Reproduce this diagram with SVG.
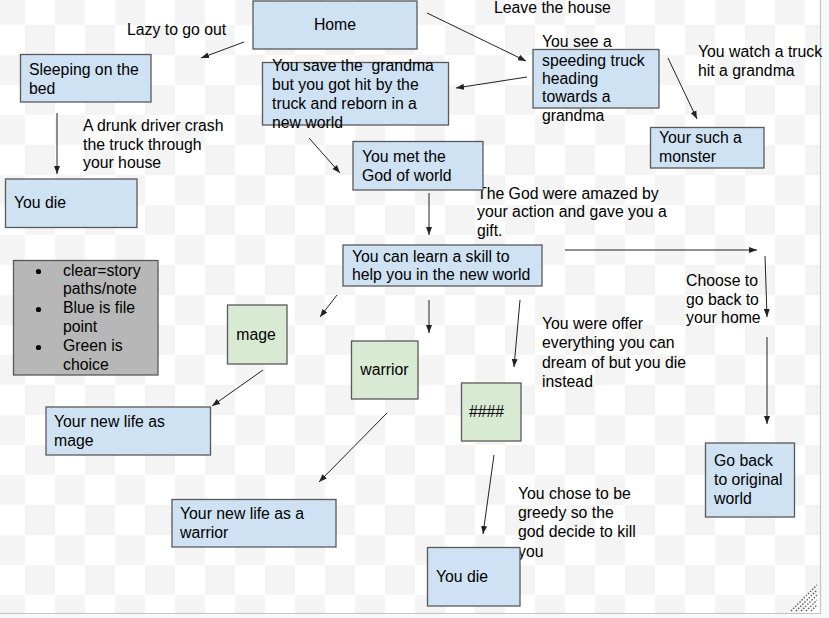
<svg xmlns="http://www.w3.org/2000/svg" width="829" height="618" viewBox="0 0 829 618">
<defs>
<pattern id="chk" x="25" y="25" width="60" height="60" patternUnits="userSpaceOnUse">
<rect width="60" height="60" fill="#ffffff"/>
<rect width="30" height="30" fill="#f4f4f4"/>
<rect x="30" y="30" width="30" height="30" fill="#f4f4f4"/>
</pattern>
<marker id="ah" markerUnits="userSpaceOnUse" markerWidth="9" markerHeight="7" refX="8" refY="3.5" orient="auto">
<path d="M0,0.5 L8,3.5 L0,6.5 z" fill="#222"/>
</marker>
<style>
.n{fill:#cfe2f3;stroke:#595959;stroke-width:1.3}
.g{fill:#d9ead3;stroke:#595959;stroke-width:1.3}
.k{fill:#b7b7b7;stroke:#595959;stroke-width:1.3}
.t{font-family:"Liberation Sans",Arial,sans-serif;font-size:15.8px;fill:#000;white-space:pre}
.m{text-anchor:middle}
.c path{stroke:#222;stroke-width:1;fill:none;marker-end:url(#ah)}
</style>
</defs>
<rect width="829" height="618" fill="#f8f9fa"/>
<rect width="820" height="613" fill="url(#chk)"/>
<path d="M820.5,0 V613.5 H0" fill="none" stroke="#c4c4c4" stroke-width="1.2"/>
<g stroke="#555" stroke-width="1.3" stroke-dasharray="1.5,1.5">
<path d="M791,611 L817,585"/>
<path d="M796,611 L817,590"/>
<path d="M801,611 L817,595"/>
<path d="M806,611 L817,600"/>
<path d="M811,611 L817,605"/>
</g>

<g id="connectors" class="c">
<path d="M244,42 L201,58"/>
<path d="M427,13 L526,61"/>
<path d="M57,113 L57,174"/>
<path d="M527,77 L456,88"/>
<path d="M668,58 L697,119"/>
<path d="M309,138 L340,173"/>
<path d="M429,193 L429,235"/>
<path d="M565,250 L757,250"/>
<path d="M765,256 L767,317"/>
<path d="M767,337 L767,424"/>
<path d="M337,295 L320,317"/>
<path d="M429,300 L429,333"/>
<path d="M520,300 L514,367"/>
<path d="M263,370 L212,406"/>
<path d="M387,413 L319,482"/>
<path d="M494,455 L483,534"/>
</g>

<g id="labels" class="t">
<text x="127" y="35">Lazy to go out</text>
<text x="494" y="12.5">Leave the house</text>
<text x="83" y="131">A drunk driver crash<tspan x="83" y="150">the truck  through</tspan><tspan x="83" y="168">your house</tspan></text>
<text x="698" y="57">You watch a truck<tspan x="698" y="76">hit a grandma</tspan></text>
<text x="477" y="199">The God were amazed by<tspan x="477" y="217">your action and gave you a</tspan><tspan x="477" y="236">gift.</tspan></text>
<text x="686" y="286">Choose to<tspan x="686" y="305">go back to</tspan><tspan x="686" y="323">your home</tspan></text>
<text x="542" y="329">You were offer<tspan x="542" y="348">everything you can</tspan><tspan x="542" y="368">dream of but you die</tspan><tspan x="542" y="387">instead</tspan></text>
<text x="518" y="499">You chose to be<tspan x="518" y="518">greedy so the</tspan><tspan x="518" y="537">god decide to kill</tspan><tspan x="518" y="557">you</tspan></text>
</g>

<g id="home"><rect class="n" x="253" y="1" width="164" height="48"/><text class="t m" x="335" y="30">Home</text></g>
<g id="sleeping"><rect class="n" x="20.5" y="54.5" width="130.5" height="47.5"/><text class="t" x="29" y="75">Sleeping on the<tspan x="29" y="94">bed</tspan></text></g>
<g id="die1"><rect class="n" x="5.5" y="179" width="131.5" height="48.5"/><text class="t" x="14" y="208">You die</text></g>
<g id="save"><rect class="n" x="262.5" y="62.5" width="186" height="62.5"/><text class="t" x="272" y="71">You save the  grandma<tspan x="272" y="90">but you got hit by the</tspan><tspan x="272" y="109">truck and reborn in a</tspan><tspan x="272" y="128">new world</tspan></text></g>
<g id="speeding"><rect class="n" x="533" y="49.5" width="126" height="58.5"/><text class="t" x="542" y="47">You see a<tspan x="542" y="66">speeding truck</tspan><tspan x="542" y="84">heading</tspan><tspan x="542" y="102">towards a</tspan><tspan x="542" y="121">grandma</tspan></text></g>
<g id="monster"><rect class="n" x="650.5" y="127.5" width="113.5" height="40.5"/><text class="t" x="659" y="143">Your such a<tspan x="659" y="162">monster</tspan></text></g>
<g id="god"><rect class="n" x="353" y="141.5" width="130" height="48.5"/><text class="t" x="362" y="162">You met the<tspan x="362" y="181">God of world</tspan></text></g>
<g id="skill"><rect class="n" x="343" y="245" width="199" height="41"/><text class="t" x="352" y="262">You can learn a skill to<tspan x="352" y="280">help you in the new world</tspan></text></g>
<g id="legend"><rect class="k" x="13.5" y="260.5" width="144.5" height="114.5"/>
<g fill="#000"><circle cx="38.5" cy="271.5" r="2.6"/><circle cx="38.5" cy="309.5" r="2.6"/><circle cx="38.5" cy="347.5" r="2.6"/></g>
<text class="t" x="63" y="276">clear=story<tspan x="63" y="294">paths/note</tspan><tspan x="63" y="313">Blue is file</tspan><tspan x="63" y="332">point</tspan><tspan x="63" y="351">Green is</tspan><tspan x="63" y="370">choice</tspan></text></g>
<g id="mage"><rect class="g" x="227.5" y="305" width="59.5" height="59"/><text class="t m" x="256" y="340">mage</text></g>
<g id="warrior"><rect class="g" x="351.5" y="341" width="66.5" height="58"/><text class="t m" x="384.5" y="375">warrior</text></g>
<g id="hash"><rect class="g" x="461.5" y="383" width="59.5" height="58"/><text class="t" x="469" y="417">####</text></g>
<g id="newmage"><rect class="n" x="46" y="407" width="164.5" height="48"/><text class="t" x="54" y="427">Your new life as<tspan x="54" y="446">mage</tspan></text></g>
<g id="newwarrior"><rect class="n" x="172" y="499.5" width="164" height="47.5"/><text class="t" x="180" y="519">Your new life as a<tspan x="180" y="538">warrior</tspan></text></g>
<g id="die2"><rect class="n" x="427.5" y="547.5" width="92.5" height="58.5"/><text class="t" x="436" y="582">You die</text></g>
<g id="goback"><rect class="n" x="705.5" y="443" width="89" height="74"/><text class="t" x="714" y="466">Go back<tspan x="714" y="485">to original</tspan><tspan x="714" y="504">world</tspan></text></g>
</svg>
